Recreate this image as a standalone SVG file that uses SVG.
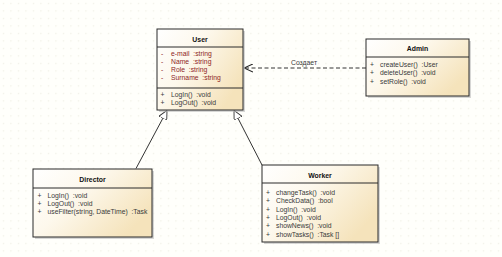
<svg xmlns="http://www.w3.org/2000/svg" width="502" height="257" viewBox="0 0 502 257" xml:space="preserve">
<defs>
<pattern id="grid" width="7.5" height="7.5" patternUnits="userSpaceOnUse">
<rect x="3" y="3" width="1" height="1" fill="#e4e4d8"/>
</pattern>
<linearGradient id="fill" x1="0" y1="0" x2="1" y2="0.6">
<stop offset="0" stop-color="#ffffff"/>
<stop offset="0.45" stop-color="#fdf8ec"/>
<stop offset="1" stop-color="#f5e3bb"/>
</linearGradient>
<marker id="gen" viewBox="0 0 10 10" refX="10" refY="5" markerWidth="9" markerHeight="9" markerUnits="userSpaceOnUse" orient="auto">
<path d="M0,0 L10,5 L0,10 Z" fill="#ffffff" stroke="#333" stroke-width="1"/>
</marker>
<marker id="open" viewBox="0 0 10 10" refX="10" refY="5" markerWidth="9" markerHeight="9" markerUnits="userSpaceOnUse" orient="auto">
<path d="M0,0.5 L10,5 L0,9.5" fill="none" stroke="#222" stroke-width="1.2"/>
</marker>
</defs>
<style>
.box{fill:url(#fill);stroke:#2a2a2a;stroke-width:1}
.shadow{fill:#bdbdbd;opacity:0.6}
.div{stroke:#2a2a2a;stroke-width:1}
text{font-family:"Liberation Sans",Arial,sans-serif;font-size:6.8px;fill:#3a3a3a;white-space:pre}
.title{font-weight:bold;fill:#111;font-size:6.9px;text-anchor:middle}
.attr{fill:#8e1f1f}
.conn{stroke:#333;stroke-width:1;fill:none}
.dash{stroke:#333;stroke-width:1;fill:none;stroke-dasharray:4 2.5}
</style>
<rect width="502" height="257" fill="#fffffb"/>
<rect width="502" height="257" fill="url(#grid)"/>

<g id="connectors">
<line class="conn" x1="136" y1="168.5" x2="167" y2="110.5" marker-end="url(#gen)"/>
<line class="conn" x1="262" y1="165" x2="234" y2="110.5" marker-end="url(#gen)"/>
<line class="dash" x1="366" y1="68" x2="244" y2="68" marker-end="url(#open)"/>
<text x="291" y="65">Создает</text>
</g>

<g id="User">
<rect class="shadow" x="159" y="31" width="86" height="81"/>
<rect class="box" x="157" y="29" width="86" height="81"/>
<line class="div" x1="157" y1="47" x2="243" y2="47"/>
<line class="div" x1="157" y1="88" x2="243" y2="88"/>
<text class="title" x="200" y="41.5">User</text>
<text class="attr" x="161" y="55.5">-</text><text class="attr" x="171" y="55.5">e-mail  :string</text>
<text class="attr" x="161" y="64">-</text><text class="attr" x="171" y="64">Name  :string</text>
<text class="attr" x="161" y="71.5">-</text><text class="attr" x="171" y="71.5">Role  :string</text>
<text class="attr" x="161" y="79.5">-</text><text class="attr" x="171" y="79.5">Surname  :string</text>
<text x="160.5" y="96.5">+</text><text x="171" y="96.5">LogIn()  :void</text>
<text x="160.5" y="105">+</text><text x="171" y="105">LogOut()  :void</text>
</g>

<g id="Admin">
<rect class="shadow" x="368" y="41" width="103" height="57"/>
<rect class="box" x="366" y="39" width="103" height="57"/>
<line class="div" x1="366" y1="57" x2="469" y2="57"/>
<text class="title" x="417.5" y="51">Admin</text>
<text x="370" y="66.5">+</text><text x="380" y="66.5">createUser()  :User</text>
<text x="370" y="75">+</text><text x="380" y="75">deleteUser()  :void</text>
<text x="370" y="83.5">+</text><text x="380" y="83.5">setRole()  :void</text>
</g>

<g id="Director">
<rect class="shadow" x="35" y="171" width="119" height="68"/>
<rect class="box" x="33" y="169" width="119" height="68"/>
<line class="div" x1="33" y1="188" x2="152" y2="188"/>
<text class="title" x="92.5" y="181.5">Director</text>
<text x="37.5" y="197.5">+</text><text x="47.5" y="197.5">LogIn()  :void</text>
<text x="37.5" y="205.5">+</text><text x="47.5" y="205.5">LogOut()  :void</text>
<text x="37.5" y="214">+</text><text x="47.5" y="214">useFilter(string, DateTime)  :Task</text>
</g>

<g id="Worker">
<rect class="shadow" x="264" y="167" width="116" height="77"/>
<rect class="box" x="262" y="165" width="116" height="77"/>
<line class="div" x1="262" y1="183" x2="378" y2="183"/>
<text class="title" x="320" y="177.5">Worker</text>
<text x="266" y="194.5">+</text><text x="276" y="194.5">changeTask()  :void</text>
<text x="266" y="203">+</text><text x="276" y="203">CheckData()  :bool</text>
<text x="266" y="211.5">+</text><text x="276" y="211.5">LogIn()  :void</text>
<text x="266" y="219.5">+</text><text x="276" y="219.5">LogOut()  :void</text>
<text x="266" y="228">+</text><text x="276" y="228">showNews()  :void</text>
<text x="266" y="236.5">+</text><text x="276" y="236.5">showTasks()  :Task []</text>
</g>
</svg>
